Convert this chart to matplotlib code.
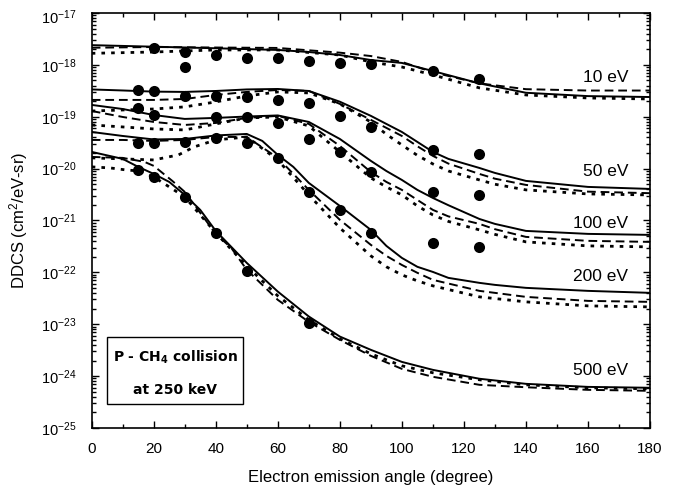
import numpy as np
import matplotlib
matplotlib.use('Agg')
from matplotlib import pyplot as plt
from matplotlib import transforms
from matplotlib.ticker import LogLocator, NullFormatter, MultipleLocator
from matplotlib.patches import Rectangle

plt.rcParams['font.family'] = ['Liberation Sans', 'DejaVu Sans']
plt.rcParams['mathtext.default'] = 'regular'

# ---- 10 eV ----
x10_sol = [0, 20, 40, 60, 70, 80, 90, 100, 110, 125, 140, 160, 180]
y10_sol = [2.4e-18, 2.24e-18, 2.09e-18, 1.94e-18, 1.77e-18, 1.55e-18, 1.24e-18, 1.09e-18,
           7.6e-19, 4.4e-19, 2.9e-19, 2.5e-19, 2.4e-19]
x10_das = [0, 20, 40, 60, 80, 90, 100, 110, 125, 140, 160, 180]
y10_das = [2.14e-18, 2.21e-18, 2.16e-18, 2.12e-18, 1.72e-18, 1.48e-18, 1.14e-18, 7.2e-19,
           4.4e-19, 3.4e-19, 3.2e-19, 3.2e-19]
x10_dot = [0, 20, 40, 60, 80, 90, 100, 110, 125, 140, 160, 180]
y10_dot = [1.67e-18, 1.77e-18, 1.94e-18, 1.94e-18, 1.55e-18, 1.14e-18, 9.1e-19, 6.4e-19,
           3.6e-19, 2.63e-19, 2.3e-19, 2.2e-19]
x10_exp = [20, 30, 30, 40, 50, 60, 70, 80, 90, 110, 125]
y10_exp = [2.1e-18, 1.8e-18, 9.2e-19, 1.58e-18, 1.38e-18, 1.34e-18, 1.2e-18, 1.07e-18,
           1.02e-18, 7.6e-19, 5.3e-19]

# ---- 50 eV ----
x50 = [0, 10, 20, 30, 40, 50, 60, 70, 80, 90, 95, 100, 105, 110, 115, 125, 130, 140, 160, 180]
y50_sol = [3.36e-19, 3.21e-19, 3.05e-19, 3.01e-19, 3.14e-19, 3.36e-19, 3.43e-19, 3.14e-19,
           1.95e-19, 1.04e-19, 7.27e-20, 5.09e-20, 3.27e-20, 2.1e-20, 1.54e-20, 1.03e-20,
           8.26e-21, 5.8e-21, 4.44e-21, 4.06e-21]
y50_das = [2.11e-19, 2.11e-19, 2.11e-19, 2.2e-19, 2.63e-19, 3.01e-19, 3.28e-19, 3.14e-19,
           1.77e-19, 8.7e-20, 6.1e-20, 4.26e-20, 2.7e-20, 1.76e-20, 1.25e-20, 7.9e-21,
           6.4e-21, 4.85e-21, 3.6e-21, 3.36e-21]
y50_dot = [1.29e-19, 1.35e-19, 1.41e-19, 1.55e-19, 1.93e-19, 2.52e-19, 3.01e-19, 2.88e-19,
           1.77e-19, 7.9e-20, 4.6e-20, 2.86e-20, 1.8e-20, 1.23e-20, 9.0e-21, 6.05e-21,
           5.0e-21, 3.89e-21, 3.25e-21, 3.11e-21]
x50_exp = [15, 20, 30, 40, 50, 60, 70, 80, 90, 110, 125]
y50_exp = [3.28e-19, 3.18e-19, 2.55e-19, 2.52e-19, 2.38e-19, 2.11e-19, 1.87e-19, 1.05e-19,
           6.45e-20, 2.29e-20, 1.89e-20]

# ---- 100 eV ----
x100 = [0, 10, 20, 30, 40, 50, 60, 70, 80, 90, 95, 100, 105, 110, 115, 125, 130, 140, 160, 180]
y100_sol = [1.69e-19, 1.41e-19, 1.08e-19, 9.08e-20, 9.5e-20, 1.01e-19, 1.06e-19, 7.94e-20,
            3.73e-20, 1.41e-20, 9.0e-21, 6.05e-21, 3.89e-21, 2.72e-21, 1.97e-21, 1.07e-21,
            8.6e-22, 6.3e-22, 5.52e-22, 5.28e-22]
y100_das = [1.29e-19, 9.9e-20, 7.94e-20, 6.95e-20, 7.59e-20, 9.5e-20, 1.04e-19, 7.27e-20,
            2.74e-20, 8.6e-21, 5.54e-21, 3.89e-21, 2.49e-21, 1.6e-21, 1.2e-21, 8.6e-22,
            6.8e-22, 4.83e-22, 4.05e-22, 3.87e-22]
y100_dot = [6.95e-20, 6.36e-20, 5.82e-20, 5.57e-20, 7.27e-20, 9.5e-20, 9.9e-20, 6.65e-20,
            2.1e-20, 6.62e-21, 4.44e-21, 3.11e-21, 1.91e-21, 1.28e-21, 9.6e-22, 6.59e-22,
            5.4e-22, 3.87e-22, 3.24e-22, 3.1e-22]
x100_exp = [15, 20, 40, 50, 60, 70, 80, 90, 110, 125]
y100_exp = [1.46e-19, 1.08e-19, 9.7e-20, 9.9e-20, 7.49e-20, 3.77e-20, 2.12e-20, 8.75e-21,
            3.6e-21, 3.11e-21]

# ---- 200 eV ----
x200_sol = [0, 10, 20, 30, 40, 50, 55, 60, 65, 70, 80, 90, 95, 100, 105, 110, 115, 125, 130,
            140, 160, 180]
y200_sol = [5.09e-20, 4.26e-20, 3.65e-20, 3.73e-20, 4.36e-20, 4.66e-20, 3.42e-20, 1.84e-20,
            1.08e-20, 5.3e-21, 1.91e-21, 6.59e-22, 3.24e-22, 1.9e-22, 1.28e-22, 1.02e-22,
            7.83e-23, 6.28e-23, 5.74e-23, 5.03e-23, 4.4e-23, 4.03e-23]
x200_das = [0, 10, 20, 30, 40, 50, 60, 70, 80, 90, 95, 100, 105, 110, 125, 140, 160, 180]
y200_das = [3.57e-20, 3.57e-20, 3.42e-20, 3.57e-20, 4.08e-20, 4.08e-20, 1.61e-20, 3.89e-21,
            1.03e-21, 3.39e-22, 2.08e-22, 1.39e-22, 9.8e-23, 7.17e-23, 4.4e-23, 3.37e-23,
            2.82e-23, 2.7e-23]
x200_dot = [0, 10, 20, 28, 33, 40, 50, 60, 70, 80, 90, 95, 100, 105, 110, 125, 140, 160, 180]
y200_dot = [1.61e-20, 1.54e-20, 1.47e-20, 1.84e-20, 2.62e-20, 3.57e-20, 4.08e-20, 1.47e-20,
            3.11e-21, 7.2e-22, 2.08e-22, 1.28e-22, 8.95e-23, 6.85e-23, 5.5e-23, 3.37e-23,
            2.7e-23, 2.26e-23, 2.16e-23]
x200_exp = [15, 20, 30, 40, 50, 60, 70, 80, 90, 110, 125]
y200_exp = [3.09e-20, 3.09e-20, 3.32e-20, 3.86e-20, 3.09e-20, 1.58e-20, 3.6e-21, 1.6e-21,
            5.85e-22, 3.65e-22, 3.14e-22]

# ---- 500 eV ----
x500_sol = [0, 10, 15, 20, 25, 30, 35, 40, 45, 50, 60, 70, 80, 90, 100, 110, 125, 140, 160, 180]
y500_sol = [2.1e-20, 1.54e-20, 1.08e-20, 7.91e-21, 5.54e-21, 3.11e-21, 1.6e-21, 6.3e-22,
            3.1e-22, 1.52e-22, 4.26e-23, 1.41e-23, 5.79e-24, 3.21e-24, 1.88e-24, 1.32e-24,
            8.9e-25, 7.1e-25, 6.2e-25, 5.96e-25]
x500_das = [0, 10, 17, 20, 26, 30, 40, 45, 50, 60, 70, 80, 90, 100, 110, 125, 140, 160, 180]
y500_das = [1.68e-20, 1.61e-20, 1.35e-20, 1.13e-20, 5.79e-21, 3.56e-21, 5.52e-22, 2.96e-22,
            1.12e-22, 2.95e-23, 1.11e-23, 5.0e-24, 2.46e-24, 1.38e-24, 9.7e-25, 6.8e-25,
            6.1e-25, 5.44e-25, 5.21e-25]
x500_dot = [0, 6, 11, 15, 20, 30, 40, 50, 60, 70, 80, 90, 100, 110, 125, 140, 160, 180]
y500_dot = [1.08e-20, 1.03e-20, 9.44e-21, 9.03e-21, 6.92e-21, 2.85e-21, 5.77e-22, 1.33e-22,
            3.52e-23, 1.22e-23, 5.23e-24, 2.69e-24, 1.58e-24, 1.16e-24, 8.5e-25, 6.8e-25,
            5.96e-25, 5.69e-25]
x500_exp = [15, 20, 30, 40, 50, 70]
y500_exp = [9.4e-21, 6.8e-21, 2.8e-21, 5.7e-22, 1.04e-22, 1.05e-23]

labels = ['10 eV', '50 eV', '100 eV', '200 eV', '500 eV']
label_y = [5.6e-19, 8.7e-21, 8.9e-22, 8.5e-23, 1.3e-24]

groups = [
    ((x10_sol, y10_sol), (x10_das, y10_das), (x10_dot, y10_dot), (x10_exp, y10_exp)),
    ((x50, y50_sol), (x50, y50_das), (x50, y50_dot), (x50_exp, y50_exp)),
    ((x100, y100_sol), (x100, y100_das), (x100, y100_dot), (x100_exp, y100_exp)),
    ((x200_sol, y200_sol), (x200_das, y200_das), (x200_dot, y200_dot), (x200_exp, y200_exp)),
    ((x500_sol, y500_sol), (x500_das, y500_das), (x500_dot, y500_dot), (x500_exp, y500_exp)),
]

fig = plt.figure(figsize=(6.89, 4.96), dpi=100)
ax = fig.add_axes([0.1331, 0.1371, 0.8103, 0.8367])

for sol, das, dot, exp in groups:
    ax.plot(*sol, color='black', lw=1.4)
    ax.plot(*das, color='black', lw=1.4, linestyle=(0, (4.5, 2.5)))
    ax.plot(*dot, color='black', lw=2.0, linestyle=(0, (1.3, 2.2)))
    ax.plot(*exp, 'o', color='black', ms=8, markeredgewidth=0)

for lab, ly in zip(labels, label_y):
    ax.text(173, ly, lab, ha='right', va='center', fontsize=12.5)

ax.set_yscale('log')
ax.set_xlim(0, 180)
ax.set_ylim(1e-25, 1e-17)
ax.xaxis.set_major_locator(MultipleLocator(20))
ax.xaxis.set_minor_locator(MultipleLocator(10))
ax.yaxis.set_major_locator(LogLocator(base=10, numticks=20))
ax.yaxis.set_minor_locator(LogLocator(base=10, subs=np.arange(2, 10), numticks=20))
ax.yaxis.set_minor_formatter(NullFormatter())
ax.tick_params(which='both', direction='in', top=True, right=True, width=1)
ax.tick_params(which='major', length=5)
ax.tick_params(which='minor', length=3)
ax.tick_params(axis='x', labelsize=11, pad=10)
ax.tick_params(axis='y', labelsize=10.5, pad=11)
for s in ax.spines.values():
    s.set_linewidth(1.2)

ax.set_xlabel('Electron emission angle (degree)', fontsize=12)
ax.set_ylabel('DDCS (cm$^2$/eV-sr)', fontsize=12)
ax.xaxis.set_label_coords(0.5, -0.101)
ax.yaxis.set_label_coords(-0.11, 0.5)

ax.add_patch(Rectangle((0.0269, 0.0578), 0.2446, 0.1608, transform=ax.transAxes,
                       fill=False, edgecolor='black', lw=1))
ax.text(0.1495, 0.171, 'P - CH$_4$ collision', transform=ax.transAxes, ha='center',
        va='center', fontsize=10, fontweight='bold', family='DejaVu Sans')
ax.text(0.1495, 0.0916, 'at 250 keV', transform=ax.transAxes, ha='center',
        va='center', fontsize=10, fontweight='bold', family='DejaVu Sans')

# keep the topmost y tick label inside the figure
fig.canvas.draw()
shift = transforms.ScaledTranslation(0, -2 / 72, fig.dpi_scale_trans)
for t in ax.yaxis.get_major_ticks():
    if np.isclose(np.log10(t.get_loc()), -17):
        t.label1.set_transform(t.label1.get_transform() + shift)

fig.savefig('out.png', dpi=100)
